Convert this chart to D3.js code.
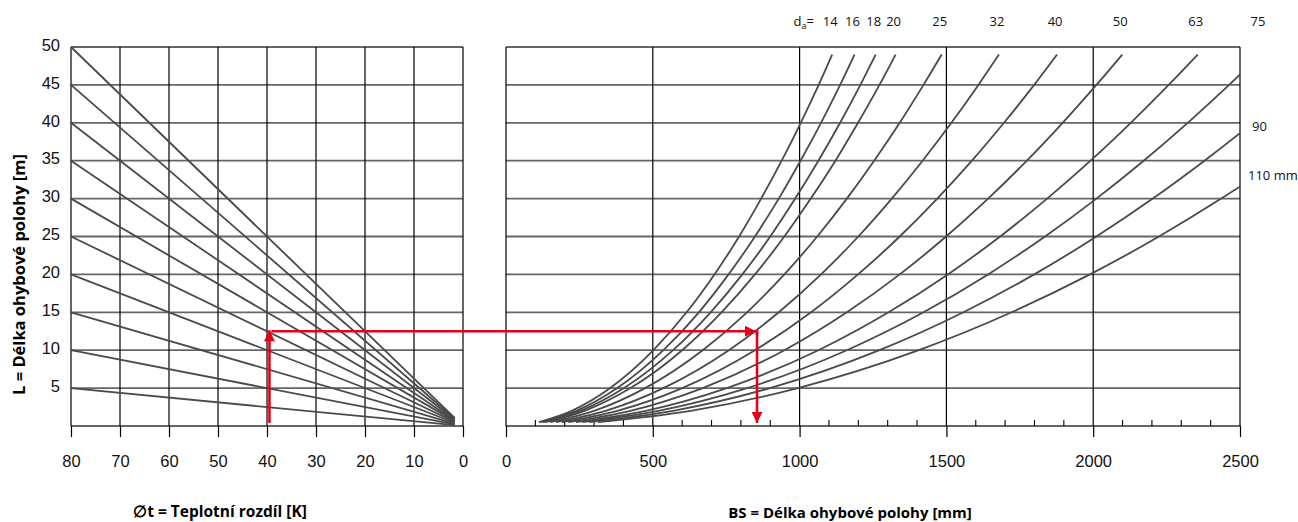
<!DOCTYPE html>
<html>
<head>
<meta charset="utf-8">
<script src="https://cdn.jsdelivr.net/npm/d3@7"></script>
<style>
  body { margin: 0; background: #fff; }
  svg { font-family: "Open Sans", "Noto Sans", sans-serif; }
</style>
</head>
<body>
<svg id="chart" width="1298" height="522"></svg>
<script>
// left panel: temperature difference lines (start at 80 K, end near 0)
const tempTicks = [80, 70, 60, 50, 40, 30, 20, 10, 0];
const lengthTicks = [5, 10, 15, 20, 25, 30, 35, 40, 45, 50];
const lineStartL = [5, 10, 15, 20, 25, 30, 35, 40, 45, 50];
const lineEndT = 1.7;
const lineEndL = [0.11, 0.21, 0.32, 0.43, 0.53, 0.64, 0.74, 0.85, 0.96, 1.06];

// right panel: BS [mm] read at these L [m] levels for each pipe diameter
const bsTicks = [0, 500, 1000, 1500, 2000, 2500];
const bsMinor = [100, 200, 300, 400, 600, 700, 800, 900, 1100, 1200, 1300, 1400,
  1600, 1700, 1800, 1900, 2100, 2200, 2300, 2400];
const curveL = [0.5, 2, 5, 10, 15, 20, 25, 30, 35, 40, 45, 49];
const diameters = [14, 16, 18, 20, 25, 32, 40, 50, 63, 75, 90, 110];
const bs14 = [112, 224, 355, 502, 615, 710, 794, 869, 939, 1004, 1065, 1111];
const bs16 = [120, 240, 379, 536, 657, 758, 848, 929, 1003, 1073, 1138, 1187];
const bs18 = [127, 254, 402, 569, 697, 805, 900, 985, 1064, 1138, 1207, 1259];
const bs20 = [134, 268, 424, 600, 734, 848, 948, 1038, 1122, 1199, 1272, 1327];
const bs25 = [150, 300, 474, 670, 821, 948, 1060, 1161, 1254, 1341, 1422, 1484];
const bs32 = [170, 339, 536, 759, 929, 1073, 1200, 1314, 1419, 1517, 1609, 1679];
const bs40 = [190, 379, 600, 848, 1039, 1199, 1341, 1469, 1587, 1696, 1799, 1877];
const bs50 = [212, 424, 670, 948, 1161, 1341, 1499, 1642, 1774, 1896, 2011, 2099];
const bs63 = [238, 476, 752, 1064, 1303, 1505, 1683, 1843, 1991, 2128, 2257, 2356];
const bs75 = [260, 519, 821, 1161, 1422, 1642, 1836, 2011, 2172, 2322, 2463, 2570];
const bs90 = [284, 569, 899, 1272, 1558, 1799, 2011, 2203, 2379, 2544, 2698, 2815];
const bs110 = [314, 629, 994, 1406, 1722, 1989, 2224, 2436, 2631, 2813, 2984, 3113];
const bsSeries = [bs14, bs16, bs18, bs20, bs25, bs32, bs40, bs50, bs63, bs75, bs90, bs110];

// worked example (red arrows)
const exampleT = 39.5;
const exampleL = 12.5;
const exampleBS = 855;
const exampleBottomL = 0.4;

const svg = d3.select("#chart");
const gridGrey = "#666";
const curveGrey = "#4a4a4a";
const red = "#e2001a";

const y = d3.scaleLinear().domain([0, 50]).range([426, 47]);
const xT = d3.scaleLinear().domain([80, 0]).range([71, 463]);
const xB = d3.scaleLinear().domain([0, 2500]).range([506, 1240]);

// horizontal grid
[[xT, 80, 0], [xB, 0, 2500]].forEach(([x, a, b]) => {
  svg.append("g")
    .selectAll("line")
    .data([0].concat(lengthTicks))
    .join("line")
    .attr("x1", x(a))
    .attr("x2", x(b))
    .attr("y1", d => y(d))
    .attr("y2", d => y(d))
    .attr("stroke", gridGrey)
    .attr("stroke-width", 1.8);
});

// vertical grid
svg.append("g")
  .selectAll("line")
  .data(tempTicks)
  .join("line")
  .attr("x1", d => xT(d))
  .attr("x2", d => xT(d))
  .attr("y1", y(50))
  .attr("y2", y(0))
  .attr("stroke", "#000")
  .attr("stroke-width", 1.2);

svg.append("g")
  .selectAll("line")
  .data(bsTicks)
  .join("line")
  .attr("x1", d => xB(d))
  .attr("x2", d => xB(d))
  .attr("y1", y(50))
  .attr("y2", y(0))
  .attr("stroke", "#000")
  .attr("stroke-width", 1.2);

// minor ticks on BS axis (upward)
svg.append("g")
  .selectAll("line")
  .data(bsMinor)
  .join("line")
  .attr("x1", d => xB(d))
  .attr("x2", d => xB(d))
  .attr("y1", y(0))
  .attr("y2", y(0) - 6)
  .attr("stroke", "#000")
  .attr("stroke-width", 1.1);

// axes
const styleAxis = g => {
  g.select(".domain").remove();
  g.selectAll(".tick line").attr("stroke", "#000").attr("stroke-width", 1.2);
  g.selectAll(".tick text").attr("font-size", 16.5).attr("fill", "#111");
};

svg.append("g")
  .attr("transform", `translate(0, ${y(0)})`)
  .call(d3.axisBottom(xT).tickValues(tempTicks).tickSize(11).tickPadding(18))
  .call(styleAxis);

svg.append("g")
  .attr("transform", `translate(0, ${y(0)})`)
  .call(d3.axisBottom(xB).tickValues(bsTicks).tickFormat(d3.format("d"))
    .tickSize(11).tickPadding(18))
  .call(styleAxis);

svg.append("g")
  .attr("transform", `translate(${xT(80)}, -2)`)
  .call(d3.axisLeft(y).tickValues(lengthTicks).tickSize(0).tickPadding(11))
  .call(styleAxis)
  .selectAll(".tick text")
  .attr("text-anchor", "end");

// left panel lines
svg.append("g")
  .selectAll("line")
  .data(lineStartL)
  .join("line")
  .attr("x1", xT(80))
  .attr("y1", d => y(d))
  .attr("x2", xT(lineEndT))
  .attr("y2", (d, i) => y(lineEndL[i]))
  .attr("stroke", curveGrey)
  .attr("stroke-width", 1.8);

// right panel curves, clipped at the frame
svg.append("clipPath")
  .attr("id", "clipB")
  .append("rect")
  .attr("x", xB(0))
  .attr("y", y(50))
  .attr("width", xB(2500) - xB(0))
  .attr("height", y(0) - y(50));

const curve = d3.line()
  .x(d => xB(d[0]))
  .y(d => y(d[1]))
  .curve(d3.curveMonotoneX);

svg.append("g")
  .attr("clip-path", "url(#clipB)")
  .selectAll("path")
  .data(bsSeries)
  .join("path")
  .attr("d", s => curve(s.map((v, i) => [v, curveL[i]])))
  .attr("fill", "none")
  .attr("stroke", curveGrey)
  .attr("stroke-width", 1.8);

// diameter labels
const daLabels = svg.append("g").attr("font-size", 13).attr("fill", "#111");
const daText = daLabels.append("text")
  .attr("x", 814)
  .attr("y", 26)
  .attr("text-anchor", "end");
daText.append("tspan").text("d");
daText.append("tspan").attr("font-size", 9).attr("dy", 3).text("a");
daText.append("tspan").attr("dy", -3).text("=");

diameters.forEach((da, i) => {
  const s = bsSeries[i];
  const last = s[s.length - 1];
  if (last <= 2500) {
    daLabels.append("text")
      .attr("x", xB(last) - 2)
      .attr("y", 26)
      .attr("text-anchor", "middle")
      .text(da);
  }
});
daLabels.append("text").attr("x", xB(2500) + 18).attr("y", 26)
  .attr("text-anchor", "middle").text(diameters[9]);
daLabels.append("text").attr("x", xB(2500) + 12).attr("y", y(39.5) + 4).text(diameters[10]);
daLabels.append("text").attr("x", xB(2500) + 8).attr("y", y(33) + 4).text(diameters[11] + " mm");

// worked example arrows
const defs = svg.append("defs");
defs.append("marker")
  .attr("id", "arrow")
  .attr("viewBox", "0 0 10 10")
  .attr("refX", 10)
  .attr("refY", 5)
  .attr("markerUnits", "userSpaceOnUse")
  .attr("markerWidth", 13)
  .attr("markerHeight", 11)
  .attr("orient", "auto")
  .append("path")
  .attr("d", "M0,0 L10,5 L0,10 z")
  .attr("fill", red);

const redPath = (x1, y1, x2, y2) => svg.append("line")
  .attr("x1", x1).attr("y1", y1).attr("x2", x2).attr("y2", y2)
  .attr("stroke", red)
  .attr("stroke-width", 2.6)
  .attr("marker-end", "url(#arrow)");

redPath(xT(exampleT), y(exampleBottomL), xT(exampleT), y(exampleL) - 1);
redPath(xT(exampleT) + 2, y(exampleL), xB(exampleBS) - 1, y(exampleL));
svg.append("line")
  .attr("x1", xB(exampleBS)).attr("y1", y(exampleL))
  .attr("x2", xB(exampleBS)).attr("y2", y(exampleL) + 4)
  .attr("stroke", red).attr("stroke-width", 2.6);
redPath(xB(exampleBS), y(exampleL) - 1, xB(exampleBS), y(exampleBottomL));

// titles
svg.append("text")
  .attr("transform", `translate(25, ${(y(0) + y(50)) / 2 + 38}) rotate(-90)`)
  .attr("text-anchor", "middle")
  .attr("font-size", 16.5)
  .attr("font-weight", "bold")
  .text("L = Délka ohybové polohy [m]");

svg.append("text")
  .attr("x", 220)
  .attr("y", 517)
  .attr("text-anchor", "middle")
  .attr("font-size", 15.5)
  .attr("font-weight", "bold")
  .text("\u2205t = Teplotní rozdíl [K]");

svg.append("text")
  .attr("x", 850)
  .attr("y", 518)
  .attr("text-anchor", "middle")
  .attr("font-size", 15)
  .attr("font-weight", "bold")
  .text("BS = Délka ohybové polohy [mm]");
</script>
</body>
</html>
